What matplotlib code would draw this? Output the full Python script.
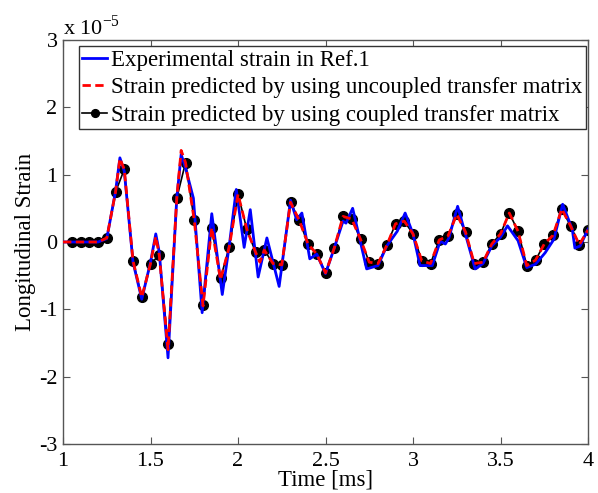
import matplotlib
matplotlib.use("Agg")
import matplotlib.pyplot as plt

plt.rcParams['font.family'] = ['Liberation Serif', 'DejaVu Serif']
plt.rcParams['axes.unicode_minus'] = False
plt.rcParams['mathtext.fontset'] = 'custom'
plt.rcParams['mathtext.rm'] = 'Liberation Serif'

# Experimental strain (units of 1e-5)
exp_t = [1.00, 1.05, 1.10, 1.15, 1.20, 1.25, 1.30, 1.325, 1.35, 1.40, 1.45, 1.50,
         1.53, 1.55, 1.60, 1.65, 1.675, 1.70, 1.745, 1.795, 1.85, 1.91, 1.95, 1.99,
         2.035, 2.07, 2.115, 2.165, 2.235, 2.30, 2.335, 2.365, 2.41, 2.45, 2.50,
         2.55, 2.60, 2.617, 2.655, 2.735, 2.80, 2.85, 2.91, 2.955, 3.00, 3.04,
         3.11, 3.155, 3.185, 3.205, 3.255, 3.355, 3.40, 3.45, 3.50, 3.54, 3.60,
         3.65, 3.70, 3.755, 3.805, 3.855, 3.91, 3.925, 3.955, 4.00]
exp_v = [0.0, 0.0, 0.0, 0.0, 0.0, 0.05, 0.75, 1.25, 1.05, -0.30, -0.85, -0.30,
         0.12, -0.15, -1.72, 0.65, 1.30, 1.10, 0.65, -1.05, 0.42, -0.78, -0.05, 0.78,
         -0.08, 0.48, -0.52, 0.06, -0.66, 0.62, 0.33, 0.43, -0.25, -0.18, -0.47,
         -0.09, 0.31, 0.28, 0.50, -0.40, -0.35, -0.06, 0.16, 0.43, 0.12, -0.35,
         -0.35, 0.01, -0.03, 0.06, 0.53, -0.40, -0.32, -0.06, 0.07, 0.24, 0.02,
         -0.38, -0.33, -0.16, 0.04, 0.56, 0.19, -0.09, -0.06, 0.19]

# Uncoupled transfer matrix prediction
unc_t = [1.00, 1.05, 1.10, 1.15, 1.20, 1.25, 1.30, 1.325, 1.35, 1.40, 1.45, 1.50,
         1.53, 1.55, 1.60, 1.65, 1.675, 1.70, 1.75, 1.80, 1.85, 1.90, 1.95, 2.00,
         2.05, 2.10, 2.125, 2.15, 2.20, 2.25, 2.30, 2.35, 2.40, 2.45, 2.50, 2.55,
         2.60, 2.65, 2.70, 2.75, 2.80, 2.85, 2.90, 2.95, 3.00, 3.05, 3.10, 3.15,
         3.20, 3.25, 3.30, 3.35, 3.40, 3.45, 3.50, 3.55, 3.60, 3.65, 3.70, 3.75,
         3.80, 3.85, 3.90, 3.95, 4.00]
unc_v = [0.0, 0.0, 0.0, 0.0, 0.0, 0.06, 0.74, 1.24, 1.08, -0.28, -0.82, -0.32,
         0.08, -0.20, -1.60, 0.65, 1.36, 1.18, 0.32, -0.95, 0.21, -0.56, -0.07, 0.71,
         0.19, -0.15, -0.30, -0.12, -0.32, -0.34, 0.59, 0.32, -0.03, -0.18, -0.46, -0.09,
         0.38, 0.34, 0.04, -0.30, -0.32, -0.05, 0.27, 0.31, 0.12, -0.28, -0.32, 0.03,
         0.09, 0.41, 0.15, -0.32, -0.30, -0.03, 0.12, 0.43, 0.16, -0.35, -0.27, -0.03,
         0.10, 0.49, 0.24, -0.04, 0.18]

# Coupled transfer matrix prediction
cpl_t = [1.05, 1.10, 1.15, 1.20, 1.25, 1.30, 1.35, 1.40, 1.45, 1.50, 1.55, 1.60,
         1.65, 1.70, 1.75, 1.80, 1.85, 1.90, 1.95, 2.00, 2.05, 2.10, 2.15, 2.20,
         2.25, 2.30, 2.35, 2.40, 2.45, 2.50, 2.55, 2.60, 2.65, 2.70, 2.75, 2.80,
         2.85, 2.90, 2.95, 3.00, 3.05, 3.10, 3.15, 3.20, 3.25, 3.30, 3.35, 3.40,
         3.45, 3.50, 3.55, 3.60, 3.65, 3.70, 3.75, 3.80, 3.85, 3.90, 3.95, 4.00]
cpl_v = [0.0, 0.0, 0.0, 0.0, 0.06, 0.74, 1.08, -0.28, -0.82, -0.32, -0.20, -1.51,
         0.65, 1.18, 0.32, -0.93, 0.21, -0.54, -0.07, 0.71, 0.19, -0.15, -0.12, -0.32,
         -0.34, 0.59, 0.32, -0.03, -0.18, -0.46, -0.09, 0.38, 0.34, 0.04, -0.30, -0.32,
         -0.05, 0.27, 0.31, 0.12, -0.28, -0.32, 0.03, 0.09, 0.41, 0.15, -0.32, -0.30,
         -0.03, 0.12, 0.43, 0.16, -0.35, -0.27, -0.03, 0.10, 0.49, 0.24, -0.04, 0.18]

labels = ["Experimental strain in Ref.1",
          "Strain predicted by using uncoupled transfer matrix",
          "Strain predicted by using coupled transfer matrix"]
xticks = [1, 1.5, 2, 2.5, 3, 3.5, 4]
xticklabels = ["1", "1.5", "2", "2.5", "3", "3.5", "4"]
yticks = [-3, -2, -1, 0, 1, 2, 3]
yticklabels = ["-3", "-2", "-1", "0", "1", "2", "3"]

fig = plt.figure(figsize=(5.98, 4.93), dpi=100)
ax = fig.add_axes([0.1054, 0.0994, 0.9833 - 0.1054, 0.9189 - 0.0994])

l3, = ax.plot(cpl_t, cpl_v, color='black', lw=1.2, marker='o', markersize=7,
              markerfacecolor='black', markeredgecolor='black', zorder=2)
l1, = ax.plot(exp_t, exp_v, color='#0000ff', lw=2.0, zorder=3)
l2, = ax.plot(unc_t, unc_v, color='#ff0000', lw=2.0, ls=(0, (3, 1.6)), zorder=4)

ax.set_xlim(1, 4)
ax.set_ylim(-3, 3)
ax.set_xticks(xticks)
ax.set_xticklabels(xticklabels)
ax.set_yticks(yticks)
ax.set_yticklabels(yticklabels)
ax.tick_params(direction='in', top=True, right=True, labelsize=16, length=5,
               width=0.8, color='#555555')
ax.tick_params(axis='x', pad=6)
ax.tick_params(axis='y', pad=4)
for s in ax.spines.values():
    s.set_color('#555555')
    s.set_linewidth(1.0)

ax.set_xlabel("Time [ms]", fontsize=16.5, labelpad=-1)
ax.set_ylabel("Longitudinal Strain", fontsize=16.5, labelpad=2)
ax.text(0.0, 1.0, r"x 10$^{\mathregular{-5}}$", transform=ax.transAxes,
        fontsize=16, ha='left', va='bottom')

leg = ax.legend([l1, l2, l3], labels, loc='upper right', bbox_to_anchor=(1.0, 0.99),
                fontsize=16.5, frameon=True, fancybox=False, framealpha=1,
                edgecolor='#333333', handlelength=1.1, handletextpad=0.15,
                borderpad=0.15, labelspacing=0.28, borderaxespad=0.1, markerscale=0.8)
leg.get_frame().set_linewidth(1.0)

fig.savefig("out.png", dpi=100)
